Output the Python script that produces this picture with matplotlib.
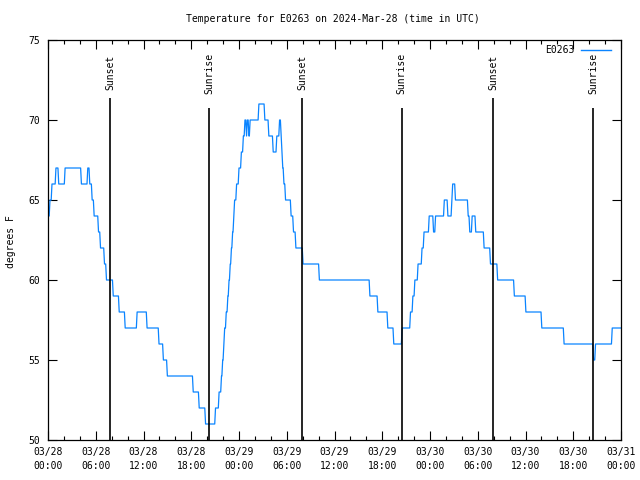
import numpy as np
import matplotlib
matplotlib.use('Agg')
import matplotlib.pyplot as plt
import matplotlib.dates as mdates

START = np.datetime64('2024-03-28T00:00')
SAMPLE_H = 0.1  # about one logger interval, in hours

# hours after START where the reading changes, and the reading (deg F)
hours = [0.0, 0.25, 0.5, 1.0, 1.35, 2.15, 4.2, 5.0, 5.25, 5.55,
         5.8, 6.35, 6.6, 7.1, 7.35, 8.2, 8.95, 9.7, 11.2, 12.45,
         13.95, 14.5, 15.0, 18.25, 19.0, 19.8, 21.05, 21.5, 21.8, 21.95,
         22.1, 22.2, 22.4, 22.6, 22.75, 22.9, 23.05, 23.2, 23.35, 23.45,
         23.7, 24.0, 24.3, 24.55, 24.75, 24.95, 25.05, 25.25, 25.4, 26.5,
         27.25, 27.75, 28.3, 28.75, 29.1, 29.3, 29.4, 29.5, 29.65, 29.85,
         30.55, 30.85, 31.15, 32.05, 34.1, 40.45, 41.45, 42.7, 43.45, 44.5,
         45.55, 45.85, 46.1, 46.5, 47.0, 47.25, 47.9, 48.45, 48.7, 49.8,
         50.25, 50.75, 50.85, 51.2, 52.8, 53.0, 53.3, 53.75, 54.8, 55.6,
         56.5, 58.6, 60.05, 62.05, 64.85, 68.55, 68.8, 70.9, 72.0]
temps = [64, 65, 66, 67, 66, 67, 66, 67, 66, 65,
         64, 63, 62, 61, 60, 59, 58, 57, 58, 57,
         56, 55, 54, 53, 52, 51, 52, 53, 54, 55,
         56, 57, 58, 59, 60, 61, 62, 63, 64, 65,
         66, 67, 68, 69, 70, 69, 70, 69, 70, 71,
         70, 69, 68, 69, 70, 69, 68, 67, 66, 65,
         64, 63, 62, 61, 60, 59, 58, 57, 56, 57,
         58, 59, 60, 61, 62, 63, 64, 63, 64, 65,
         64, 65, 66, 65, 64, 63, 64, 63, 62, 61,
         60, 59, 58, 57, 56, 55, 56, 57, 57]

sunset_hours = [7.83, 31.95, 55.95]
sunrise_hours = [20.27, 44.42, 68.5]

station = 'E0263'
title = 'Temperature for E0263 on 2024-Mar-28 (time in UTC)'


def to_time(h):
    return START + (np.asarray(h) * 3600).astype('timedelta64[s]')


# each level runs from its change time to one sample before the next change
starts = np.array(hours)
ends = np.append(np.maximum(starts[:-1], starts[1:] - SAMPLE_H), starts[-1])
xs = np.column_stack([starts, ends]).ravel()
ys = np.repeat(temps, 2)

plt.rcParams['font.family'] = 'DejaVu Sans Mono'
plt.rcParams['font.size'] = 7

fig = plt.figure(figsize=(6.4, 4.8), dpi=100)
ax = fig.add_axes([48 / 640, 40 / 480, 573 / 640, 400 / 480])

ax.plot(to_time(xs), ys, color='#0a84ff', lw=0.9)

for h in sunset_hours:
    ax.vlines(to_time(h), 50, 71.4, color='black', lw=1.2)
    ax.text(to_time(h), 72.95, 'Sunset', rotation=90, ha='center', va='center')
for h in sunrise_hours:
    ax.vlines(to_time(h), 50, 70.75, color='black', lw=1.2)
    ax.text(to_time(h), 72.9, 'Sunrise', rotation=90, ha='center', va='center')

ax.set_xlim(START, START + np.timedelta64(72, 'h'))
ax.set_ylim(50, 75)
ax.set_yticks(range(50, 76, 5))
ax.xaxis.set_major_locator(mdates.HourLocator(byhour=range(0, 24, 6)))
ax.xaxis.set_minor_locator(mdates.HourLocator(byhour=range(0, 24, 2)))
ax.xaxis.set_major_formatter(mdates.DateFormatter('%m/%d\n%H:%M'))
ax.tick_params(which='major', direction='in', length=6.5, width=0.8,
               top=True, right=True, pad=6)
ax.tick_params(which='minor', direction='in', length=3.2, width=0.8,
               top=True, right=False, left=False)
ax.tick_params(axis='x', which='major', pad=5)
for lab in ax.get_xticklabels():
    lab.set_linespacing(1.55)
for sp in ax.spines.values():
    sp.set_linewidth(0.9)

# key in the top right corner
ax.plot([0.931, 0.983], [0.975, 0.975], transform=ax.transAxes,
        color='#0a84ff', lw=1.0)
ax.text(0.918, 0.975, station, transform=ax.transAxes, ha='right', va='center')

fig.text(333 / 640, 1 - 19 / 480, title, ha='center', va='center')
fig.text(11 / 640, 1 - 242 / 480, 'degrees F', rotation=90,
         ha='center', va='center')

fig.savefig('out.png', dpi=100)
